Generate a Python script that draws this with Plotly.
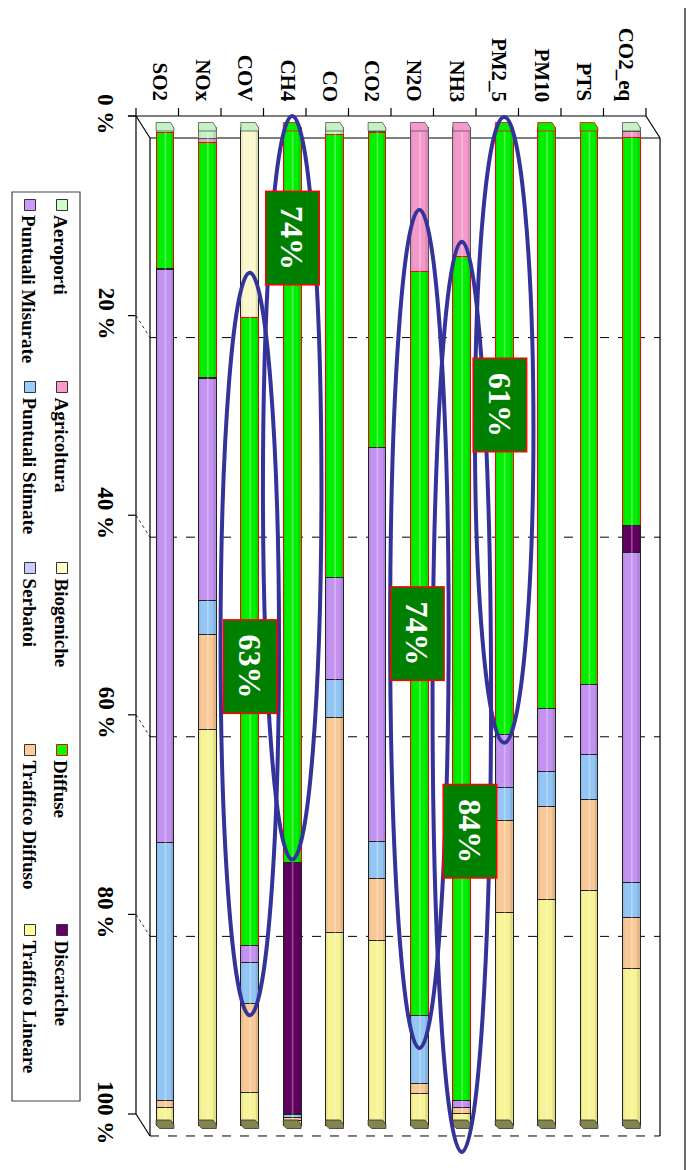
import plotly.graph_objects as go

# ---------------- data ----------------
categories = ["SO2", "NOx", "COV", "CH4", "CO", "CO2", "N2O", "NH3", "PM2_5", "PM10", "PTS", "CO2_eq"]
series_names = ["Aeroporti", "Agricoltura", "Biogeniche", "Diffuse", "Discariche",
                "Puntuali Misurate", "Puntuali Stimate", "Serbatoi", "Traffico Diffuso", "Traffico Lineare"]

aeroporti   = [0.6, 1.2, 0.4, 0.1, 0.8, 0.5, 0.0, 0.0, 0.1, 0.0, 0.0, 0.5]
agricoltura = [0.0, 0.4, 0.0, 0.0, 0.0, 0.1, 14.5, 13.0, 0.3, 0.2, 0.2, 0.6]
biogeniche  = [0.0, 0.0, 18.7, 0.0, 0.0, 0.0, 0.0, 0.0, 0.0, 0.0, 0.0, 0.0]
diffuse     = [13.6, 23.5, 62.9, 73.6, 44.3, 31.5, 74.5, 84.5, 60.5, 58.1, 55.7, 38.8]
discariche  = [0.1, 0.1, 0.0, 25.1, 0.0, 0.0, 0.0, 0.0, 0.0, 0.0, 0.0, 2.7]
punt_mis    = [57.4, 22.2, 1.7, 0.1, 10.3, 39.5, 0.0, 0.7, 5.3, 6.3, 7.0, 33.1]
punt_stim   = [25.8, 3.5, 4.1, 0.3, 3.8, 3.7, 6.8, 0.0, 3.3, 3.5, 4.5, 3.5]
serbatoi    = [0.0, 0.0, 0.0, 0.0, 0.0, 0.0, 0.0, 0.0, 0.0, 0.0, 0.0, 0.0]
traff_diff  = [0.7, 9.5, 8.9, 0.3, 21.5, 6.2, 1.0, 0.6, 9.2, 9.3, 9.1, 5.1]
traff_lin   = [1.8, 39.6, 3.3, 0.5, 19.3, 18.5, 3.2, 1.2, 21.3, 22.6, 23.5, 15.7]

tick_values = [0, 20, 40, 60, 80, 100]
tick_labels = ["0 %", "20 %", "40 %", "60 %", "80 %", "100 %"]

# highlighted shares: (category, label, label position %, ellipse top %, ellipse bottom %)
highlights = [
    ("CH4", "74%", 11.1, -1.1, 73.4),
    ("PM2_5", "61%", 27.9, -1.0, 61.7),
    ("N2O", "74%", 50.8, 8.3, 92.3),
    ("COV", "63%", 54.1, 14.6, 89.0),
    ("NH3", "84%", 70.6, 11.5, 102.7),
]
label_dx = {"CH4": 0.0, "PM2_5": -0.1, "N2O": -0.06, "COV": 0.0, "NH3": 0.19}

# ---------------- style ----------------
colors = ["#CCFFCC", "#FF99CC", "#FFFFCC", "#00FF00", "#660066",
          "#CC99FF", "#99CCFF", "#CCCCFF", "#FFCC99", "#FFFF99"]
bar_colors = ["#C4F2C4", "#F49ACB", "#FAF8CC", "#00F000", "#620062",
              "#C493F2", "#93C6F4", "#C8C8F8", "#F8C896", "#F6F494"]
edge_colors = ["#777777", "#555555", "#222222", "#FF0000", "#222222",
               "#222222", "#222222", "#222222", "#222222", "#222222"]
FONT = "Liberation Serif, Times New Roman, serif"

SW, SH = 695, 1170          # screen
OFF = 8                     # default page body margin
W, H = SW - OFF, SH - OFF   # figure size
# screen-pixel mapping: category i centre at 165 + 42.4 i ; 0 % at 127, 100 % at 1125
XPX0, XPX = 165.0, 42.4
YPX0, YPX = 127.0, 9.98
x_range = [(OFF - XPX0) / XPX, (SW - XPX0) / XPX]
y_range = [(SH - YPX0) / YPX, (OFF - YPX0) / YPX]

def px(xp):
    return (xp - OFF) / W

def py(yp):
    return 1 - (yp - OFF) / H

all_series = [aeroporti, agricoltura, biogeniche, diffuse, discariche,
              punt_mis, punt_stim, serbatoi, traff_diff, traff_lin]

fig = go.Figure()
BW = 0.42
for name, vals, col, ec in zip(series_names, all_series, bar_colors, edge_colors):
    fig.add_trace(go.Bar(
        x=categories, y=vals, name=name, width=BW,
        marker=dict(color=col, line=dict(color=ec, width=1)),
        showlegend=False,
    ))

shapes = []
# 3D frame
FL, BL = -0.684, -0.354          # front / back left
FR, BR = 11.344, 11.675          # front / back right
FT, BT = -1.1, 1.1               # front / back top (0 %)
FB, BB = 98.9, 101.1             # front / back bottom (100 %)
line = dict(color="black", width=1.2)
dash = dict(color="black", width=1, dash="dash")

def seg(x0, y0, x1, y1, ln):
    shapes.append(dict(type="line", xref="x", yref="y", x0=x0, y0=y0, x1=x1, y1=y1, line=ln, layer="below"))

for p in tick_values[1:-1]:
    seg(BL, p + 1.1, BR, p + 1.1, dash)
    seg(FL, p - 1.1, BL, p + 1.1, dict(color="black", width=0.8, dash="dot"))
seg(BL, BB, BR, BB, dash)
seg(FL, FT, FL, FB, line)
seg(BL, BT, BL, BB, line)
seg(BL, BT, BR, BT, line)
seg(BR, BT, BR, BB, line)
seg(FL, FT, BL, BT, line)
seg(FR, FT, BR, BT, line)
seg(FL, FB, BL, BB, line)
seg(FL - 0.19, FT, FR, FT, line)
for p in tick_values:
    seg(FL - 0.19, p - 1.1, FL, p - 1.1, line)
step = (FR - FL) / len(categories)
for k in range(len(categories) + 1):
    seg(FL + k * step, FT, FL + k * step, FT - 0.8, line)

# bar shading, caps (top face colour of first visible segment, olive bottom face)
for i, cat in enumerate(categories):
    first = next(j for j in range(len(all_series)) if all_series[j][i] >= 0.35 or (j == 3 and all_series[j][i] > 0))
    l, r = i - BW / 2, i + BW / 2
    shapes.append(dict(type="rect", xref="x", yref="y", x0=r - 0.07, x1=r - 0.01, y0=0, y1=100,
                       fillcolor="rgba(0,0,0,0.10)", line=dict(width=0)))
    shapes.append(dict(type="rect", xref="x", yref="y", x0=l + 0.01, x1=l + 0.05, y0=0, y1=100,
                       fillcolor="rgba(0,0,0,0.06)", line=dict(width=0)))
    shapes.append(dict(type="rect", xref="x", yref="y", x0=i - 0.01, x1=i + 0.03, y0=0, y1=100,
                       fillcolor="rgba(255,255,255,0.30)", line=dict(width=0)))
    shapes.append(dict(type="path", xref="x", yref="y",
                       path=f"M {l},0.4 L {l},-0.45 L {r-0.08},-0.45 L {r},0.1 L {r},0.4 Z",
                       fillcolor=bar_colors[first],
                       line=dict(color="#FF0000" if first == 3 else "#555555", width=0.8)))
    shapes.append(dict(type="path", xref="x", yref="y",
                       path=f"M {l},99.5 L {r-0.08},99.5 L {r},99.95 L {r},100.35 L {l+0.08},100.35 L {l},100.0 Z",
                       fillcolor="#84844F", line=dict(color="#333333", width=0.8)))

# ellipses
for cat, lab, ly, e0, e1 in highlights:
    i = categories.index(cat)
    shapes.append(dict(type="circle", xref="x", yref="y", x0=i - 0.69, x1=i + 0.69,
                       y0=e0, y1=e1, line=dict(color="#333399", width=4)))

# legend box + markers
shapes.append(dict(type="rect", xref="paper", yref="paper", x0=px(12), x1=px(80),
                   y0=py(1101), y1=py(192), line=dict(color="#444444", width=1.2),
                   fillcolor="white", layer="below"))
annotations = []
leg_rows_x = [62, 30]
leg_cols_y = [205, 387, 568, 750, 930]
for k, (name, col) in enumerate(zip(series_names, colors)):
    row, colidx = k // 5, k % 5
    cx, cy = leg_rows_x[row], leg_cols_y[colidx]
    shapes.append(dict(type="rect", xref="paper", yref="paper",
                       x0=px(cx - 5.5), x1=px(cx + 5.5), y0=py(cy + 5.5), y1=py(cy - 5.5),
                       fillcolor=col, line=dict(color="red" if name == "Diffuse" else "#333333", width=1)))
    annotations.append(dict(xref="paper", yref="paper", x=px(cx - 1), y=py(cy + 8),
                            text=name, textangle=90, showarrow=False,
                            xanchor="center", yanchor="top",
                            font=dict(family=FONT, size=19, color="black", weight="bold")))

# category labels
for i, cat in enumerate(categories):
    annotations.append(dict(xref="x", yref="paper", x=i - 0.12, y=py(104),
                            text=cat, textangle=90, showarrow=False,
                            xanchor="center", yanchor="bottom",
                            font=dict(family=FONT, size=21, color="black", weight="bold")))

# percent labels
for p, t in zip(tick_values, tick_labels):
    annotations.append(dict(xref="x", yref="y", x=(106 - XPX0) / XPX, y=p - 1.3,
                            text=t, textangle=90, showarrow=False,
                            xanchor="center", yanchor="middle",
                            font=dict(family=FONT, size=23, color="black", weight="bold")))

# highlight labels
for cat, lab, ly, e0, e1 in highlights:
    i = categories.index(cat)
    annotations.append(dict(xref="x", yref="y", x=i + label_dx[cat], y=ly,
                            text=lab, textangle=90, showarrow=False,
                            xanchor="center", yanchor="middle",
                            bgcolor="#008000", bordercolor="#FF0000", borderwidth=1.5,
                            borderpad=4, width=84, height=44,
                            font=dict(family=FONT, size=32, color="white", weight="bold")))

# outer chart border (right edge)
shapes.append(dict(type="line", xref="paper", yref="paper", x0=px(685), x1=px(685), y0=0, y1=1,
                   line=dict(color="black", width=1.2)))

fig.update_layout(
    width=W, height=H, autosize=False,
    margin=dict(l=0, r=0, t=0, b=0),
    barmode="stack",
    plot_bgcolor="white", paper_bgcolor="white",
    xaxis=dict(range=x_range, showticklabels=False, showgrid=False, zeroline=False,
               showline=False, ticks="", fixedrange=True),
    yaxis=dict(range=y_range, showticklabels=False, showgrid=False, zeroline=False,
               showline=False, ticks="", fixedrange=True),
    shapes=shapes, annotations=annotations,
    showlegend=False,
)

fig.write_html("out.html")
